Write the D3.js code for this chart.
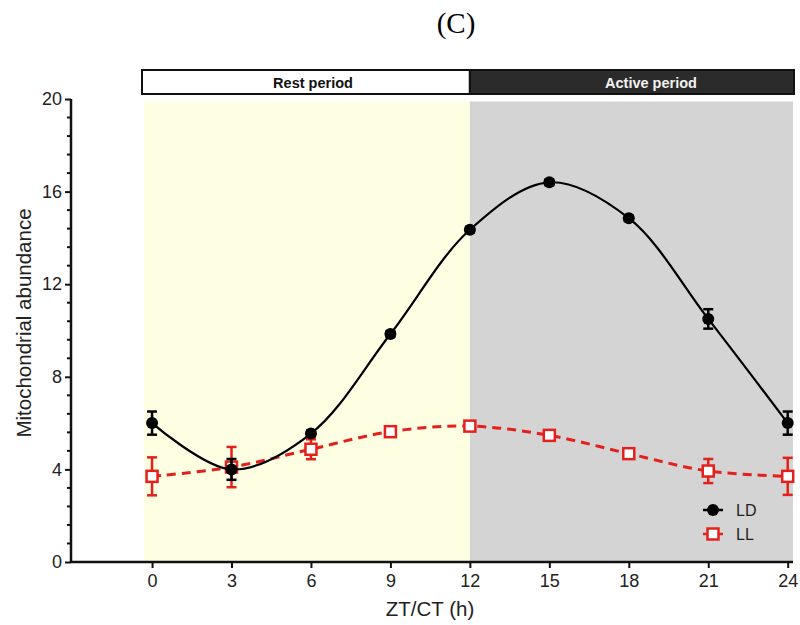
<!DOCTYPE html>
<html>
<head>
<meta charset="utf-8">
<script src="https://cdn.jsdelivr.net/npm/d3@7"></script>
<style>
  body { margin: 0; background: #fff; }
  svg text { font-family: "Liberation Sans", Arial, sans-serif; }
</style>
</head>
<body>
<svg id="chart" width="800" height="625"></svg>
<script>
// data
var hours = [0, 3, 6, 9, 12, 15, 18, 21, 24]
var ldMean = [6.0, 4.0, 5.55, 9.85, 14.35, 16.4, 14.85, 10.5, 6.0]
var ldErr = [0.5, 0.45, 0.12, 0.12, 0.12, 0.12, 0.12, 0.42, 0.5]
var llMean = [3.7, 4.1, 4.87, 5.63, 5.87, 5.47, 4.68, 3.93, 3.7]
var llErr = [0.82, 0.87, 0.43, 0.15, 0.15, 0.15, 0.15, 0.52, 0.8]
var yTicks = [0, 4, 8, 12, 16, 20]
var periods = [
  {label: 'Rest period', start: -0.3, end: 12},
  {label: 'Active period', start: 12, end: 24.2}
]
var seriesNames = ['LD', 'LL']

var svg = d3.select('#chart')

var x = d3.scaleLinear().domain([-3.06, 24.2]).range([71, 793])
var y = d3.scaleLinear().domain([0, 20]).range([562, 99])

var red = '#e3201c'

// title
svg.append('text').attr('x', 456).attr('y', 33)
  .attr('text-anchor', 'middle')
  .style('font-family', '"Liberation Serif", "Times New Roman", serif')
  .style('font-size', '29px')
  .text('(C)')

// shaded background
var bgColors = ['#fefee3', '#d4d4d4']
svg.selectAll('rect.bg').data(periods).enter().append('rect')
  .attr('class', 'bg')
  .attr('x', d => x(d.start))
  .attr('width', d => x(d.end) - x(d.start))
  .attr('y', 101.5)
  .attr('height', y(0) - 101.5)
  .attr('fill', (d, i) => bgColors[i])

// period boxes on top
var boxFill = ['#ffffff', '#2b2b2b']
var textFill = ['#111', '#f2f2f2']
var textX = [313, 651]
svg.selectAll('rect.period').data(periods).enter().append('rect')
  .attr('class', 'period')
  .attr('x', (d, i) => i == 0 ? 142 : x(d.start))
  .attr('width', (d, i) => (i == 0 ? x(d.end) - 142 : 794 - x(d.start)))
  .attr('y', 70)
  .attr('height', 24)
  .attr('fill', (d, i) => boxFill[i])
  .attr('stroke', '#111')
  .attr('stroke-width', 2)
svg.selectAll('text.period').data(periods).enter().append('text')
  .attr('class', 'period')
  .attr('x', (d, i) => textX[i])
  .attr('y', 88)
  .attr('text-anchor', 'middle')
  .style('font-size', '14.5px')
  .style('font-weight', 'bold')
  .attr('fill', (d, i) => textFill[i])
  .text(d => d.label)

// axes
var yAxis = d3.axisLeft(y).tickValues(yTicks).tickSize(6).tickPadding(3).tickFormat(d3.format('d'))
var gy = svg.append('g').attr('transform', 'translate(71,0)').call(yAxis)
// minor ticks every 0.8
var minor = d3.range(0, 20.01, 0.8).filter(v => yTicks.indexOf(Math.round(v * 10) / 10) < 0)
gy.selectAll('line.minor').data(minor).enter().append('line')
  .attr('class', 'minor')
  .attr('x1', -4).attr('x2', 0)
  .attr('y1', d => y(d)).attr('y2', d => y(d))
  .attr('stroke', '#111').attr('stroke-width', 2)

var xAxis = d3.axisBottom(x).tickValues(hours).tickSize(6).tickPadding(6)
var gx = svg.append('g').attr('transform', 'translate(0,562)').call(xAxis)

;[gx, gy].forEach(g => {
  g.select('.domain').attr('stroke', '#111').attr('stroke-width', 2.5)
  g.selectAll('.tick line').attr('stroke', '#111').attr('stroke-width', 2)
  g.selectAll('.tick text').style('font-size', '18px').attr('fill', '#222')
    .style('font-family', '"Liberation Sans", Arial, sans-serif')
})
gy.select('.domain').attr('d', 'M0,' + y(20) + 'V' + y(0))
gx.select('.domain').attr('d', 'M71,0H793')

// axis titles
svg.append('text')
  .attr('transform', 'translate(31,323) rotate(-90)')
  .attr('text-anchor', 'middle')
  .style('font-size', '20.5px').attr('fill', '#222')
  .text('Mitochondrial abundance')
svg.append('text').attr('x', 430).attr('y', 616)
  .attr('text-anchor', 'middle')
  .style('font-size', '20.5px').attr('fill', '#222')
  .text('ZT/CT (h)')

// series
var ld = hours.map((h, i) => ({h: h, m: ldMean[i], e: ldErr[i]}))
var ll = hours.map((h, i) => ({h: h, m: llMean[i], e: llErr[i]}))

var line = d3.line().x(d => x(d.h)).y(d => y(d.m)).curve(d3.curveCatmullRom.alpha(0.5))

function errorBars(data, color, cls) {
  var g = svg.append('g').attr('class', cls)
  var bars = g.selectAll('g').data(data).enter().append('g')
  bars.append('line')
    .attr('x1', d => x(d.h)).attr('x2', d => x(d.h))
    .attr('y1', d => y(d.m + d.e)).attr('y2', d => y(d.m - d.e))
  bars.append('line')
    .attr('x1', d => x(d.h) - 5).attr('x2', d => x(d.h) + 5)
    .attr('y1', d => y(d.m + d.e)).attr('y2', d => y(d.m + d.e))
  bars.append('line')
    .attr('x1', d => x(d.h) - 5).attr('x2', d => x(d.h) + 5)
    .attr('y1', d => y(d.m - d.e)).attr('y2', d => y(d.m - d.e))
  g.selectAll('line').attr('stroke', color).attr('stroke-width', 2.5)
}

// LL (dashed red)
svg.append('path').datum(ll).attr('d', line)
  .attr('fill', 'none').attr('stroke', red).attr('stroke-width', 3)
  .attr('stroke-dasharray', '9,6')
errorBars(ll, red, 'll-err')
svg.selectAll('rect.ll').data(ll).enter().append('rect')
  .attr('class', 'll')
  .attr('x', d => x(d.h) - 5.5).attr('y', d => y(d.m) - 5.5)
  .attr('width', 11).attr('height', 11)
  .attr('fill', '#fff').attr('stroke', red).attr('stroke-width', 2.5)

// LD (solid black)
svg.append('path').datum(ld).attr('d', line)
  .attr('fill', 'none').attr('stroke', '#000').attr('stroke-width', 2.2)
errorBars(ld, '#000', 'ld-err')
svg.selectAll('circle.ld').data(ld).enter().append('circle')
  .attr('class', 'ld')
  .attr('cx', d => x(d.h)).attr('cy', d => y(d.m))
  .attr('r', 6).attr('fill', '#000')

// legend
var legend = svg.append('g').attr('transform', 'translate(713,510)')
seriesNames.forEach((name, i) => {
  var g = legend.append('g').attr('transform', 'translate(0,' + (i * 24) + ')')
  var color = i == 0 ? '#000' : red
  g.append('line').attr('x1', -10).attr('x2', 10)
    .attr('stroke', color).attr('stroke-width', 2.5)
  if (i == 0) {
    g.append('circle').attr('r', 6).attr('fill', '#000')
  } else {
    g.append('rect').attr('x', -5.5).attr('y', -5.5).attr('width', 11).attr('height', 11)
      .attr('fill', '#fff').attr('stroke', red).attr('stroke-width', 2.5)
  }
  g.append('text').attr('x', 23).attr('y', 6)
    .style('font-size', '16px').attr('fill', '#222')
    .text(name)
})
</script>
</body>
</html>
